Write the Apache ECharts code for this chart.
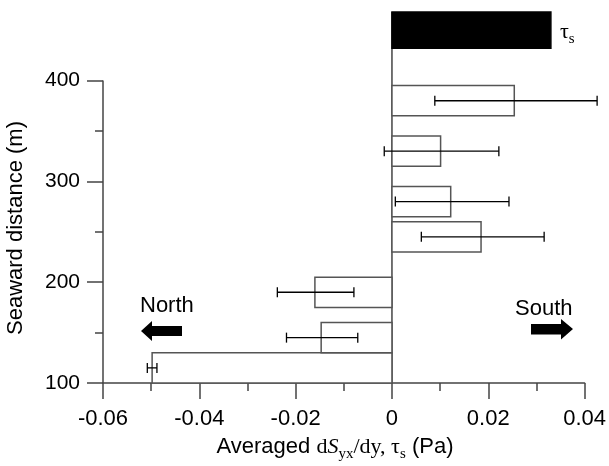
<!DOCTYPE html>
<html><head><meta charset="utf-8">
<script src="https://cdn.jsdelivr.net/npm/echarts@6/dist/echarts.min.js"></script>
<style>html,body{margin:0;padding:0;background:#fff}#c{width:609px;height:466px}</style>
</head><body><div id="c"></div>
<script>
// Bars: seaward distance span (m) and averaged dSyx/dy value (Pa)
const yStart = [100, 130, 175, 230, 265, 315, 365];
const yEnd   = [130, 160, 205, 260, 295, 345, 395];
const values = [-0.0498, -0.0147, -0.0160, 0.0185, 0.0122, 0.0101, 0.0254];
// Error bars
const errY    = [115, 145, 190, 245, 280, 330, 380];
const errLow  = [-0.0508, -0.0219, -0.0238, 0.0061, 0.0007, -0.0016, 0.0089];
const errHigh = [-0.0488, -0.0071, -0.0079, 0.0316, 0.0243, 0.0222, 0.0426];
// Wind stress bar tau_s
const tauStart = [432];
const tauEnd = [468];
const tauValue = [0.033];
// Axis ticks
const xTicks = [-0.06, -0.04, -0.02, 0, 0.02, 0.04];
const yMajorTicks = [100, 200, 300, 400];
const yMinorTicks = [150, 250, 350];

const SANS = 'Liberation Sans, Arial, sans-serif';
const SERIF = 'Liberation Serif, Times New Roman, serif';
const AX = '#444';

const chart = echarts.init(document.getElementById('c'));

const barData = values.map((v, i) => [v, yStart[i], yEnd[i]]);
const errData = errY.map((y, i) => [errLow[i], errHigh[i], y]);
const tauData = tauValue.map((v, i) => [v, tauStart[i], tauEnd[i]]);

function rectRender(fill, stroke) {
  return function (params, api) {
    const p0 = api.coord([0, api.value(1)]);
    const p1 = api.coord([api.value(0), api.value(2)]);
    const x = Math.min(p0[0], p1[0]), y = Math.min(p0[1], p1[1]);
    return {
      type: 'rect',
      shape: { x: x, y: y, width: Math.abs(p1[0] - p0[0]), height: Math.abs(p1[1] - p0[1]) },
      style: { fill: fill, stroke: stroke, lineWidth: 1.5 }
    };
  };
}

function errRender(params, api) {
  const a = api.coord([api.value(0), api.value(2)]);
  const b = api.coord([api.value(1), api.value(2)]);
  const h = 5;
  const st = { stroke: '#000', lineWidth: 1.3 };
  return {
    type: 'group',
    children: [
      { type: 'line', shape: { x1: a[0], y1: a[1], x2: b[0], y2: b[1] }, style: st },
      { type: 'line', shape: { x1: a[0], y1: a[1] - h, x2: a[0], y2: a[1] + h }, style: st },
      { type: 'line', shape: { x1: b[0], y1: b[1] - h, x2: b[0], y2: b[1] + h }, style: st }
    ]
  };
}

function vlineRender(params, api) {
  const a = api.coord([api.value(0), api.value(1)]);
  const b = api.coord([api.value(0), api.value(2)]);
  return { type: 'line', shape: { x1: a[0], y1: a[1], x2: b[0], y2: b[1] }, style: { stroke: AX, lineWidth: 1.5 } };
}

const fmt = v => (Math.abs(v) < 1e-9 ? '0' : v.toFixed(2));

chart.setOption({
  animation: false,
  grid: { left: 103, right: 23, top: 10, bottom: 83 },
  xAxis: {
    type: 'value', min: -0.06, max: 0.04, interval: 0.02,
    axisLine: { show: true, onZero: false, lineStyle: { color: AX, width: 1.5 } },
    axisTick: { show: true, length: 16, lineStyle: { color: AX, width: 1.5 } },
    minorTick: { show: true, splitNumber: 2, length: 8, lineStyle: { color: AX, width: 1.5 } },
    axisLabel: { margin: 25, fontFamily: SANS, fontSize: 22, color: '#000', formatter: fmt, customValues: xTicks },
    splitLine: { show: false }
  },
  yAxis: [{
    type: 'value', min: 100, max: 470,
    axisLine: { show: false, onZero: false },
    axisTick: { show: true, length: 16, customValues: yMajorTicks, lineStyle: { color: AX, width: 1.5 } },
    axisLabel: { margin: 23, fontFamily: SANS, fontSize: 21, color: '#000', customValues: yMajorTicks },
    splitLine: { show: false }
  }, {
    type: 'value', min: 100, max: 470, position: 'left', offset: 0,
    axisLine: { show: false, onZero: false },
    axisTick: { show: true, length: 8, customValues: yMinorTicks, lineStyle: { color: AX, width: 1.5 } },
    axisLabel: { show: false },
    splitLine: { show: false }
  }],
  series: [
    { type: 'custom', renderItem: vlineRender, data: [[-0.06, 100, 400], [0, 100, 468]], silent: true, z: 1 },
    { type: 'custom', renderItem: rectRender('#fff', '#555'), data: barData, z: 2 },
    { type: 'custom', renderItem: rectRender('#000', '#000'), data: tauData, z: 2 },
    { type: 'custom', renderItem: errRender, data: errData, z: 3 }
  ],
  graphic: [
    { type: 'text', x: 16, y: 228, rotation: Math.PI / 2, style: {
        text: 'Seaward distance (m)', font: '22px ' + SANS, fill: '#000', align: 'center', verticalAlign: 'middle' } },
    { type: 'text', x: 335, y: 445, style: {
        text: '{a|Averaged }{b|d}{i|S}{s|yx}{b|/dy, τ}{s|s}{a| (Pa)}',
        align: 'center', verticalAlign: 'middle', fill: '#000',
        rich: {
          a: { fontFamily: SANS, fontSize: 22, lineHeight: 26, verticalAlign: 'bottom' },
          b: { fontFamily: SERIF, fontSize: 22, lineHeight: 26, verticalAlign: 'bottom' },
          i: { fontFamily: SERIF, fontStyle: 'italic', fontSize: 22, lineHeight: 26, verticalAlign: 'bottom' },
          s: { fontFamily: SERIF, fontSize: 15, lineHeight: 26, verticalAlign: 'bottom', padding: [0, 0, -4, 0] }
        } } },
    { type: 'text', x: 560, y: 30, style: {
        text: '{b|τ}{s|s}', align: 'left', verticalAlign: 'middle', fill: '#000',
        rich: {
          b: { fontFamily: SERIF, fontSize: 22, lineHeight: 26, verticalAlign: 'bottom' },
          s: { fontFamily: SERIF, fontSize: 15, lineHeight: 26, verticalAlign: 'bottom', padding: [0, 0, -4, 0] }
        } } },
    { type: 'text', x: 140, y: 306, style: { text: 'North', font: '22px ' + SANS, fill: '#000', verticalAlign: 'middle' } },
    { type: 'text', x: 515, y: 309, style: { text: 'South', font: '22px ' + SANS, fill: '#000', verticalAlign: 'middle' } },
    { type: 'polygon', shape: { points: [[141, 331], [152, 321], [152, 326], [182, 326], [182, 336], [152, 336], [152, 341]] }, style: { fill: '#000' } },
    { type: 'polygon', shape: { points: [[573, 329], [561, 319], [561, 324], [531, 324], [531, 334.5], [561, 334.5], [561, 339.5]] }, style: { fill: '#000' } }
  ]
});
</script></body></html>
